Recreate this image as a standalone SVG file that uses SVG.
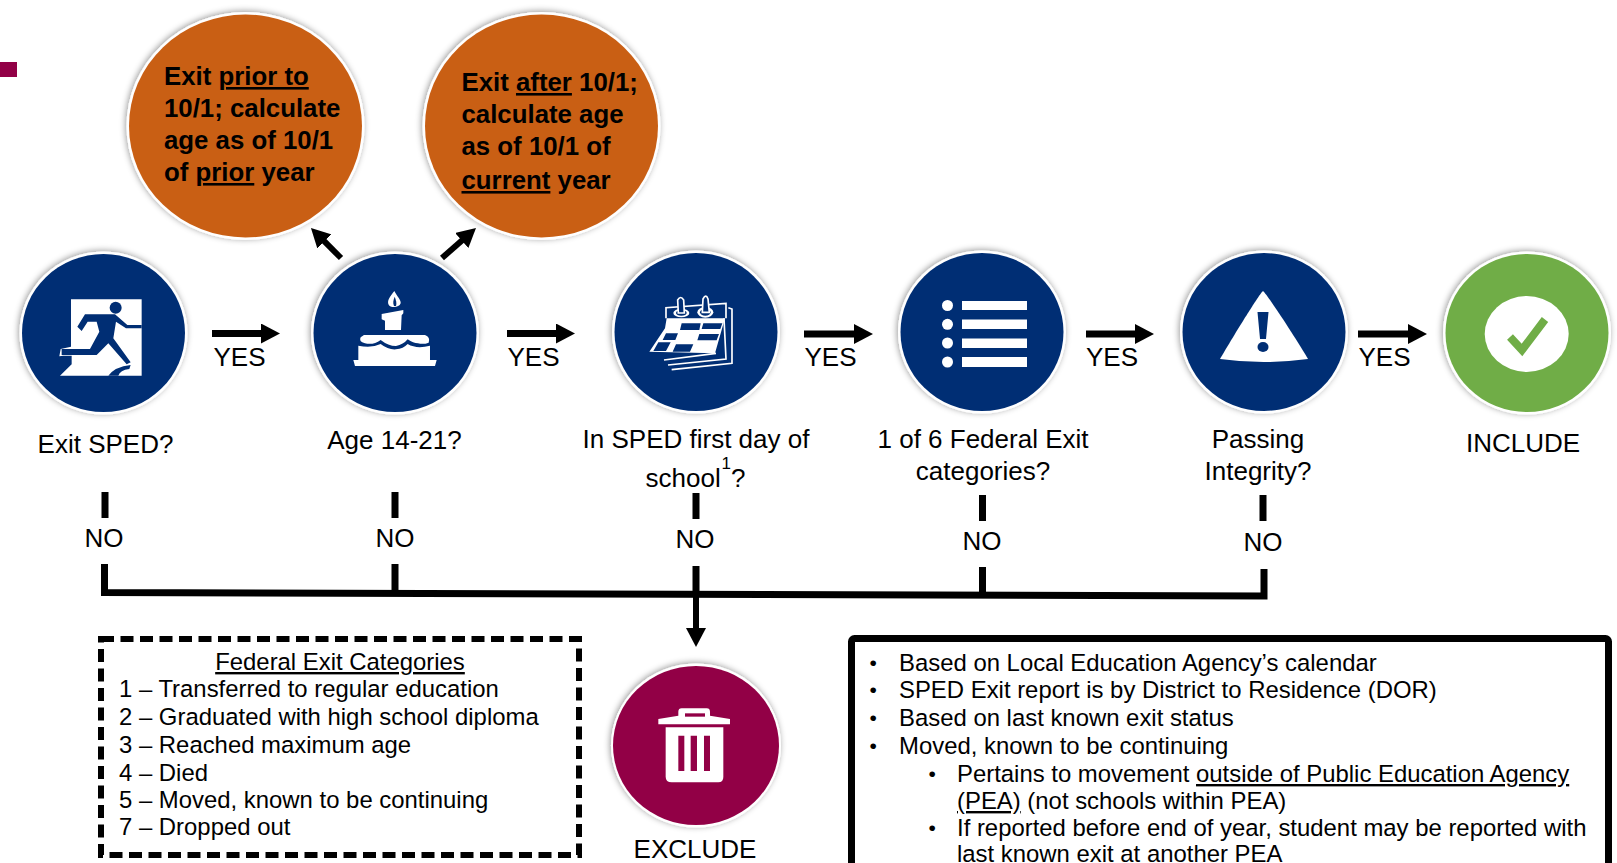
<svg xmlns="http://www.w3.org/2000/svg" width="1617" height="863" viewBox="0 0 1617 863">
<style>
text{font-family:"Liberation Sans",Arial,sans-serif;font-size:26px;fill:#000}
.b{font-weight:bold;font-size:25.800px}
.s{font-size:23.900px}
.d{font-size:21px}
.c{text-anchor:middle}
.u{text-decoration:underline}
.ring{fill:#fff;filter:url(#sh)}
.navy{fill:#002e74}.or{fill:#c95f14}.gr{fill:#70ad47}.ma{fill:#920046}
.w{fill:#fff}.nf{fill:#002e74}
.ln{fill:none;stroke:#000;stroke-width:7}
.sw{fill:none;stroke:#fff;stroke-width:5}
</style>
<defs>
<filter id="sh" x="-10%" y="-10%" width="120%" height="120%"><feDropShadow dx="-1" dy="-1" stdDeviation="3" flood-color="#000" flood-opacity=".4"/></filter>
<marker id="ah" markerUnits="userSpaceOnUse" markerWidth="20" markerHeight="20" refX="1" refY="10" orient="auto"><path d="M0 0L19 10L0 20Z" fill="#000"/></marker>
</defs>
<rect x="0" y="62" width="17" height="15" class="ma"/>

<g id="connectors">
<g class="ln">
<path d="M212 333.500H262" marker-end="url(#ah)"/>
<path d="M507 333.500H557" marker-end="url(#ah)"/>
<path d="M804 334H855" marker-end="url(#ah)"/>
<path d="M1086 334H1136" marker-end="url(#ah)"/>
<path d="M1358 334H1409" marker-end="url(#ah)"/>
<path d="M341 258L323.700 240.700" stroke-width="6" marker-end="url(#ah)"/>
<path d="M442 258L462.500 239.900" stroke-width="6" marker-end="url(#ah)"/>
</g>
<g class="ln">
<path d="M105 492V518M395 492V518M696 493V519M982.500 495V521M1263 495V521"/>
<path d="M104.500 564V592.500L1264 596V569"/>
<path d="M395 564V593M982.500 567V596"/>
<path d="M696 566V592"/>
</g>
<path d="M696 592V630" fill="none" stroke="#000" stroke-width="6"/>
<path d="M686 628H706L696 647Z" fill="#000"/>
</g>

<g id="node-prior">
<ellipse class="ring" cx="245.500" cy="126" rx="119" ry="114"/>
<ellipse class="or" cx="245.500" cy="126" rx="116.500" ry="111.500"/>
<text class="b" x="164" y="85">Exit <tspan class="u">prior to</tspan></text>
<text class="b" x="164" y="117">10/1; calculate</text>
<text class="b" x="164" y="149">age as of 10/1</text>
<text class="b" x="164" y="181">of <tspan class="u">prior</tspan> year</text>
</g>
<g id="node-after">
<ellipse class="ring" cx="541.500" cy="126" rx="119" ry="114"/>
<ellipse class="or" cx="541.500" cy="126" rx="116.500" ry="111.500"/>
<text class="b" x="461.500" y="91">Exit <tspan class="u">after</tspan> 10/1;</text>
<text class="b" x="461.500" y="123">calculate age</text>
<text class="b" x="461.500" y="155">as of 10/1 of</text>
<text class="b" x="461.500" y="189"><tspan class="u">current</tspan> year</text>
</g>

<g id="node-exit">
<ellipse class="ring" cx="103.500" cy="333" rx="84" ry="81.500"/>
<ellipse class="navy" cx="103.500" cy="333" rx="81.500" ry="79"/>
<g transform="translate(40 285) scale(.3333)">
<path class="w" d="M93 43H305V272H60L95 238V212H70L58 214L62 192L93 185Z"/>
<circle class="nf" cx="227" cy="68" r="18"/>
<path class="nf" d="M112 125L135 88H225L262 120H305V130H258L228 110L220 160L272 232L260 238L205 175L170 210H65V192H150L178 140L170 110H143L125 138Z"/>
<path class="nf" d="M205 272Q225 245 272 240L268 252Q240 255 235 272Z"/>
</g>
<text class="c" x="105.500" y="453">Exit SPED?</text>
</g>

<g id="node-age">
<ellipse class="ring" cx="395" cy="333" rx="84" ry="81.500"/>
<ellipse class="navy" cx="395" cy="333" rx="81.500" ry="79"/>
<g transform="translate(340 280) scale(.3333)">
<path class="w" d="M163 33C150 50 140 62 146 74C150 84 178 84 182 70C184 60 170 48 163 33Z"/>
<path class="nf" d="M164 50C160 60 158 68 162 78H168C171 68 168 60 164 50Z"/>
<path class="w" d="M125 102L190 90V100L185 106L183 150H135V122L125 118Z"/>
<path class="w" d="M72 165H255Q272 172 266 188Q250 194 234 190Q220 190 203 178Q190 194 168 198Q145 198 122 180Q100 196 75 190Q55 185 62 172Z"/>
<path class="w" d="M55 197Q95 205 122 192Q145 210 168 208Q190 206 203 192Q230 208 270 197V240H290L285 258H45L40 240H55Z"/>
</g>
<text class="c" x="394.500" y="448.500">Age 14-21?</text>
</g>

<g id="node-first-day">
<ellipse class="ring" cx="696" cy="332" rx="84" ry="81.500"/>
<ellipse class="navy" cx="696" cy="332" rx="81.500" ry="79"/>
<g transform="translate(640 285) scale(.3333)">
<path class="w" d="M80 100H255L225 205L28 200L75 130Z"/>
<path class="nf" d="M125 115H182L178 135H120ZM190 115H247L241 132H185ZM78 145H114L106 165H68ZM178 147H237L230 166H172ZM55 172H92L78 198H40ZM108 178H160L150 200H98Z"/>
<path class="sw" d="M78 100V68L258 55V100"/>
<path class="sw" d="M265 68L276 72V235L95 254M252 100L258 222L84 240M228 205L72 225"/>
<ellipse class="w" cx="124" cy="84" rx="24" ry="13"/>
<ellipse class="w" cx="196" cy="82" rx="24" ry="16"/>
<ellipse class="nf" cx="124" cy="84" rx="16" ry="8"/>
<ellipse class="nf" cx="196" cy="82" rx="16" ry="10"/>
<path class="nf" stroke="#fff" stroke-width="5" d="M115 84L113 45Q122 30 131 45L133 84Z"/>
<path class="nf" stroke="#fff" stroke-width="5" d="M187 82L189 42Q198 25 204 42L208 82Z"/>
</g>
<text class="c" x="696" y="448">In SPED first day of</text>
<text x="645.500" y="487">school</text>
<text x="721.500" y="469" style="font-size:17px">1</text>
<text x="731" y="487">?</text>
</g>

<g id="node-federal">
<ellipse class="ring" cx="982" cy="332" rx="84" ry="81.500"/>
<ellipse class="navy" cx="982" cy="332" rx="81.500" ry="79"/>
<path class="w" d="M962 301H1027V310H962ZM962 319.500H1027V329H962ZM962 338.500H1027V348H962ZM962 357H1027V367H962Z"/>
<circle class="w" cx="947.500" cy="305.500" r="5.500"/>
<circle class="w" cx="947.500" cy="324.300" r="5.500"/>
<circle class="w" cx="947.500" cy="343" r="5.500"/>
<circle class="w" cx="947.500" cy="362" r="5.500"/>
<text class="c" x="983" y="448">1 of 6 Federal Exit</text>
<text class="c" x="983" y="480">categories?</text>
</g>

<g id="node-integrity">
<ellipse class="ring" cx="1264" cy="332" rx="84" ry="81.500"/>
<ellipse class="navy" cx="1264" cy="332" rx="81.500" ry="79"/>
<path class="w" d="M1263 291C1267 294 1300 345 1308 359Q1263 365 1220 359C1228 345 1259 294 1263 291Z"/>
<path class="nf" d="M1257.500 312H1268.500L1266 339H1260Z"/>
<ellipse class="nf" cx="1263" cy="347" rx="5.500" ry="5"/>
<text class="c" x="1258" y="448">Passing</text>
<text class="c" x="1258" y="480">Integrity?</text>
</g>

<g id="node-include">
<ellipse class="ring" cx="1527" cy="333" rx="84" ry="81.500"/>
<ellipse class="gr" cx="1527" cy="333" rx="81.500" ry="79"/>
<ellipse class="w" cx="1526.700" cy="334" rx="42" ry="38"/>
<path d="M1510 337L1522 350L1545 319.500" fill="none" stroke="#70ad47" stroke-width="8"/>
<text class="c" x="1523" y="452">INCLUDE</text>
</g>

<g id="node-exclude">
<ellipse class="ring" cx="696" cy="745.500" rx="85" ry="82"/>
<ellipse class="ma" cx="696" cy="745.500" rx="83" ry="79.500"/>
<g transform="translate(650 695) scale(.3333)">
<path class="w" d="M25 72L85 62V50Q85 40 95 40H170Q180 40 180 50V62L240 72V88H25Z"/>
<path class="ma" d="M105 55H165V65H105Z"/>
<path class="w" d="M47 97H220V245Q220 262 205 262H65Q47 262 47 245Z"/>
<path class="ma" d="M85 122H103V228H85ZM122 122H141V228H122ZM162 122H180V228H162Z"/>
</g>
<text class="c" x="695" y="858">EXCLUDE</text>
</g>

<g id="yes-labels">
<text x="213.500" y="366">YES</text>
<text x="507.500" y="366">YES</text>
<text x="804.500" y="366">YES</text>
<text x="1086" y="366">YES</text>
<text x="1358.500" y="366">YES</text>
</g>
<g id="no-labels">
<text class="c" x="104" y="547">NO</text>
<text class="c" x="395" y="547">NO</text>
<text class="c" x="695" y="548">NO</text>
<text class="c" x="982" y="550">NO</text>
<text class="c" x="1263" y="551">NO</text>
</g>

<g id="node-categories">
<rect x="101" y="639" width="478" height="216" fill="none" stroke="#000" stroke-width="6" stroke-dasharray="13 6.500"/>
<text class="c u s" x="340" y="670">Federal Exit Categories</text>
<text class="s" x="119" y="697">1 – Transferred to regular education</text>
<text class="s" x="119" y="725">2 – Graduated with high school diploma</text>
<text class="s" x="119" y="753">3 – Reached maximum age</text>
<text class="s" x="119" y="781">4 – Died</text>
<text class="s" x="119" y="808">5 – Moved, known to be continuing</text>
<text class="s" x="119" y="835">7 – Dropped out</text>
</g>

<g id="node-notes">
<rect x="851.500" y="638.500" width="757" height="240" rx="3" fill="none" stroke="#000" stroke-width="7"/>
<text class="d" x="869.500" y="670">•</text><text class="s" x="899" y="671">Based on Local Education Agency’s calendar</text>
<text class="d" x="869.500" y="697">•</text><text class="s" x="899" y="698">SPED Exit report is by District to Residence (DOR)</text>
<text class="d" x="869.500" y="725">•</text><text class="s" x="899" y="726">Based on last known exit status</text>
<text class="d" x="869.500" y="753">•</text><text class="s" x="899" y="754">Moved, known to be continuing</text>
<text class="d" x="928.500" y="781">•</text><text class="s" x="957" y="782">Pertains to movement <tspan class="u">outside of Public Education Agency</tspan></text>
<text class="s" x="957" y="809"><tspan class="u">(PEA)</tspan> (not schools within PEA)</text>
<text class="d" x="928.500" y="835">•</text><text class="s" x="957" y="836">If reported before end of year, student may be reported with</text>
<text class="s" x="957" y="862">last known exit at another PEA</text>
</g>
</svg>
